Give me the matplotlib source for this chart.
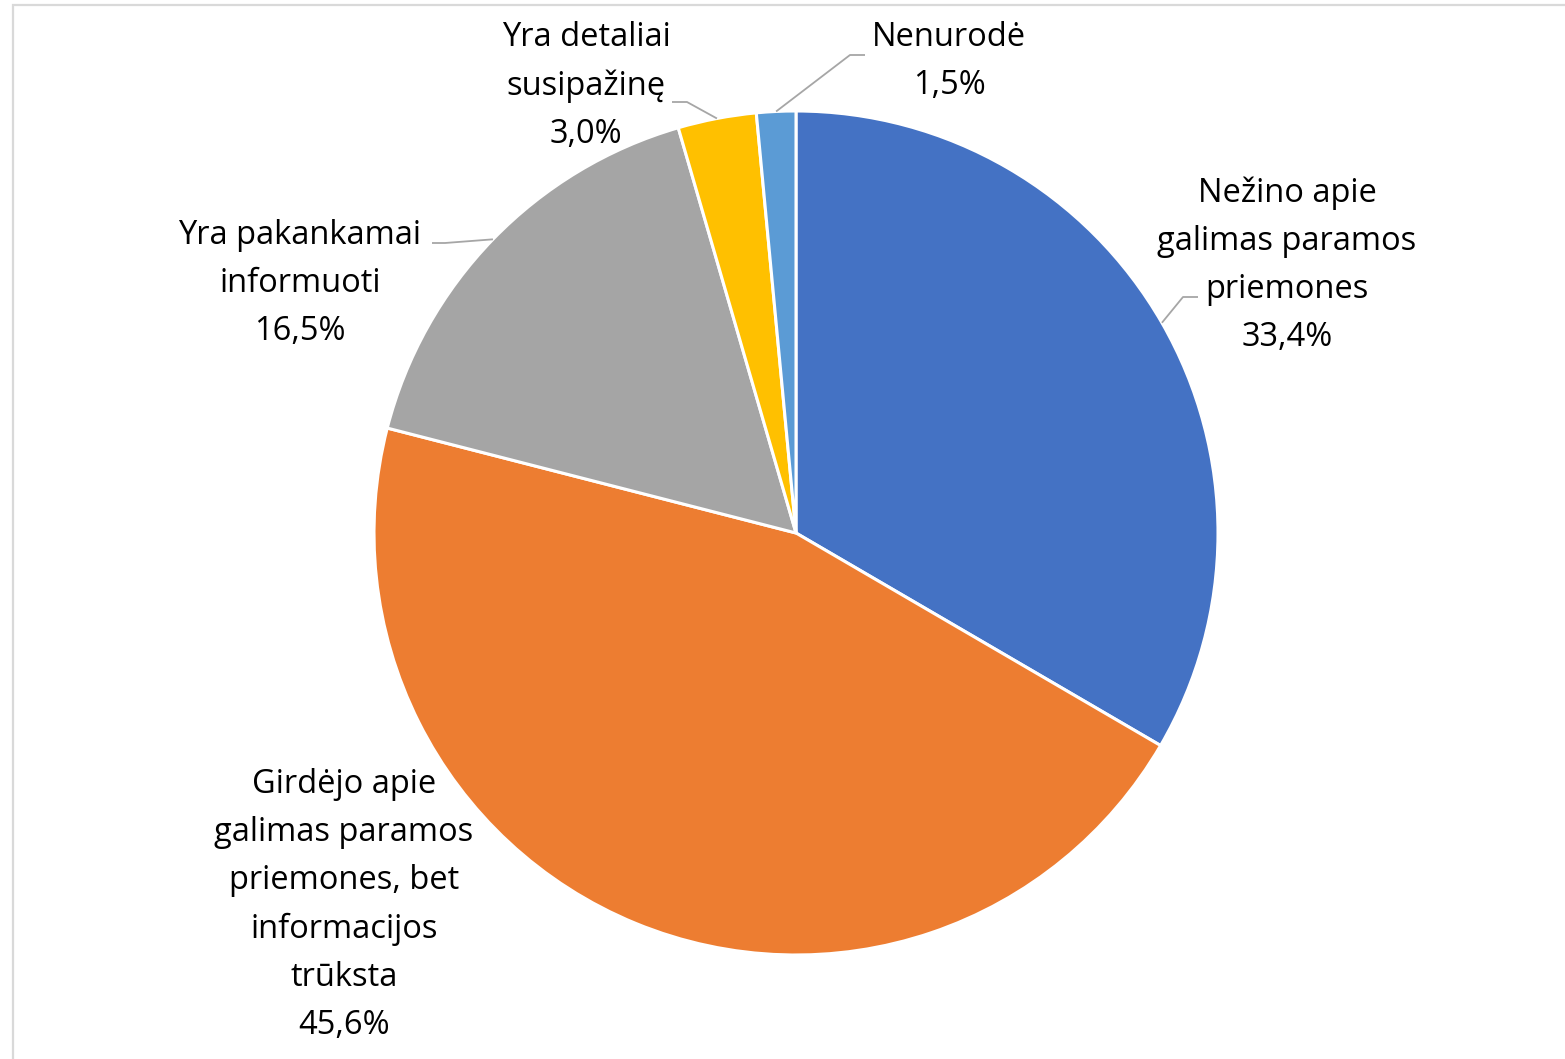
import numpy as np
import matplotlib.pyplot as plt
from matplotlib.patches import Rectangle

# Duomenys
labels = ['Nežino apie\ngalimas paramos\npriemones',
          'Girdėjo apie\ngalimas paramos\npriemones, bet\ninformacijos\ntrūksta',
          'Yra pakankamai\ninformuoti',
          'Yra detaliai\nsusipažinę',
          'Nenurodė']
values = [33.4, 45.6, 16.5, 3.0, 1.5]
colors = ['#4472C4', '#ED7D31', '#A5A5A5', '#FFC000', '#5B9BD5']

# Išdėstymas pikseliais (y skaičiuojamas nuo viršaus)
W, H = 1565, 1059
center = (796, 533)
radius = 422
label_pos = [(1287, 265), (344, 905), (300, 284), (586, 86), (949, 62)]
elbows = [[(1183, 297), (1198, 297)], None,
          [(445, 243), (432, 243)],
          [(687, 102), (672, 102)],
          [(850, 55), (865, 55)]]

plt.rcParams['font.family'] = ['Open Sans', 'DejaVu Sans']

fig = plt.figure(figsize=(W / 100, H / 100), dpi=100)
ax = fig.add_axes([0, 0, 1, 1])

wedges, _ = ax.pie(values, colors=colors, startangle=90, counterclock=False,
                   center=(center[0], H - center[1]), radius=radius,
                   wedgeprops=dict(edgecolor='white', linewidth=2.2))

for w, lab, v, pos, elb in zip(wedges, labels, values, label_pos, elbows):
    txt = lab + '\n' + f'{v:.1f}%'.replace('.', ',')
    ax.text(pos[0], H - pos[1], txt, ha='center', va='center',
            fontsize=23.5, linespacing=1.6, color='black')
    if elb is None:
        continue
    mid = np.deg2rad((w.theta1 + w.theta2) / 2)
    x0 = center[0] + radius * np.cos(mid)
    y0 = (H - center[1]) + radius * np.sin(mid)
    xs = [x0] + [p[0] for p in elb]
    ys = [y0] + [H - p[1] for p in elb]
    ax.plot(xs, ys, color='#A6A6A6', lw=1.3, solid_capstyle='butt')

# rėmelis
ax.add_patch(Rectangle((12.5, -30), W + 50, H - 5 + 30, fill=False,
                       edgecolor='#D9D9D9', lw=1.6, clip_on=False))

ax.set_xlim(0, W)
ax.set_ylim(0, H)
ax.set_aspect('auto')
ax.axis('off')

fig.savefig('out.png', dpi=100)
